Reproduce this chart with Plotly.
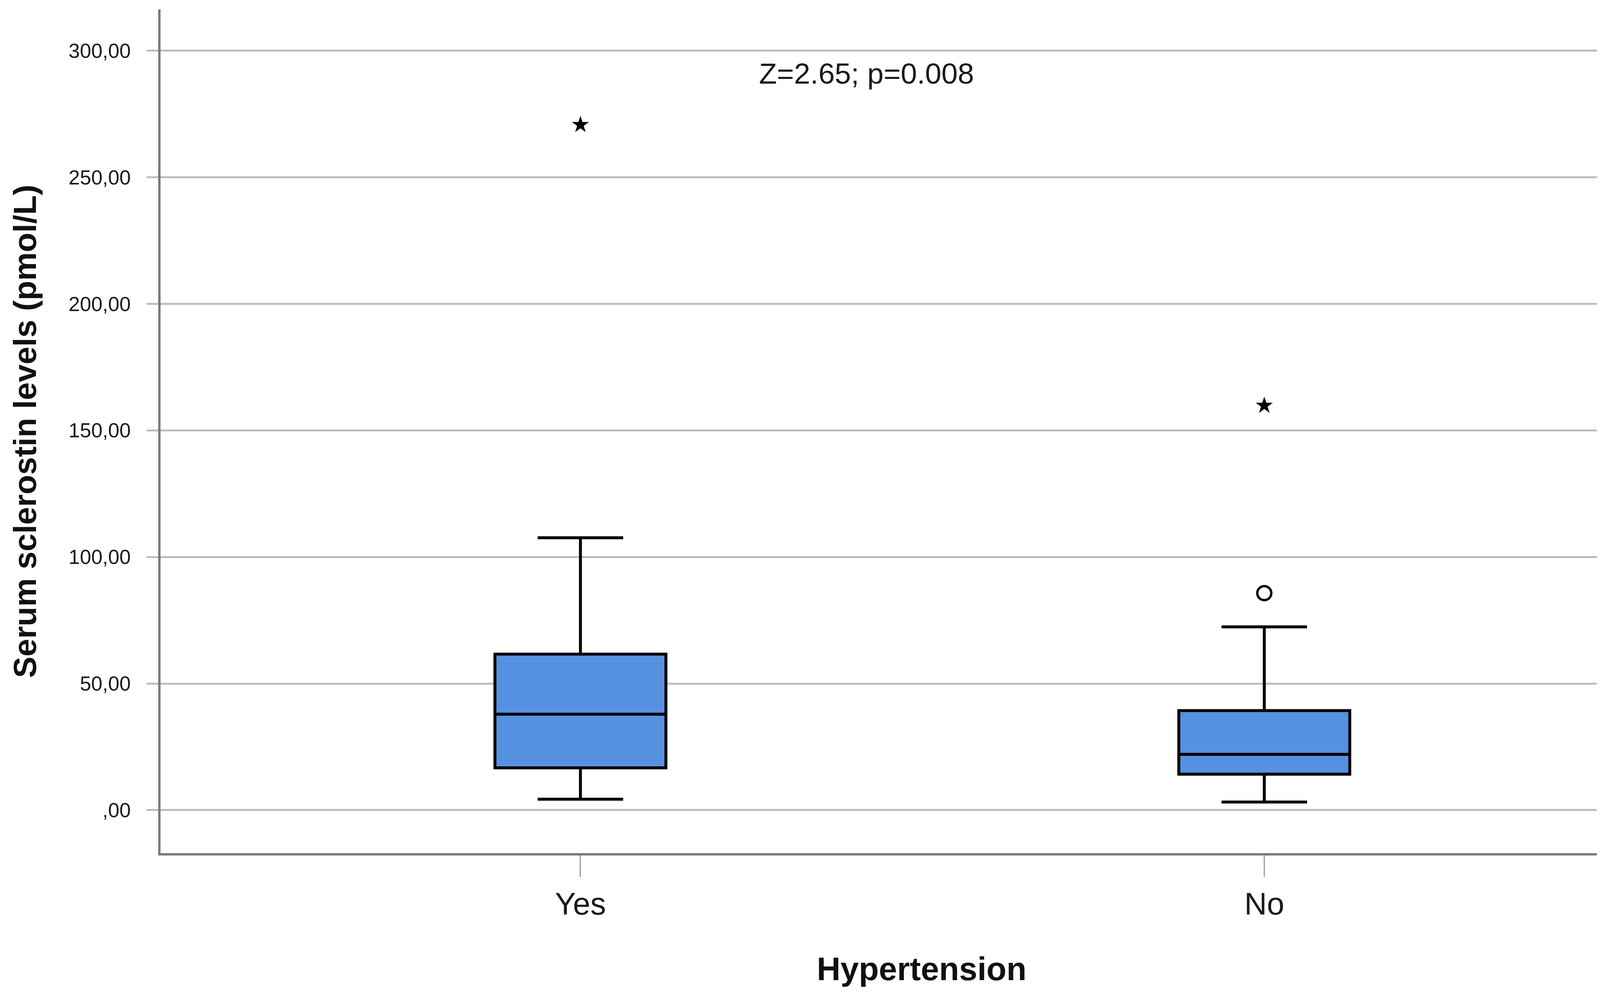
import plotly.graph_objects as go

# Box summary values (pmol/L)
groups = ["Yes", "No"]
q1 = [16.7, 14.2]
medians = [37.9, 22.0]
q3 = [61.6, 39.3]
whisker_low = [4.3, 3.2]
whisker_high = [107.6, 72.4]

# Outliers (circle) and extreme values (star)
outlier_x = ["No"]
outlier_y = [85.7]
extreme_x = ["Yes", "No"]
extreme_y = [270.7, 159.8]

y_ticks = [0, 50, 100, 150, 200, 250, 300]
y_tick_labels = [",00", "50,00", "100,00", "150,00", "200,00", "250,00", "300,00"]

fig = go.Figure()

fig.add_trace(go.Box(
    x=groups, q1=q1, median=medians, q3=q3,
    lowerfence=whisker_low, upperfence=whisker_high,
    width=0.25, whiskerwidth=0.5,
    fillcolor="#5591E0", line=dict(color="black", width=7.5),
    boxpoints=False, showlegend=False, hoverinfo="skip"))

fig.add_trace(go.Scatter(
    x=outlier_x, y=outlier_y, mode="markers",
    marker=dict(symbol="circle-open", size=36, color="black", line=dict(width=6)),
    showlegend=False))

fig.add_trace(go.Scatter(
    x=extreme_x, y=extreme_y, mode="markers",
    marker=dict(symbol="star", size=33, color="black"),
    showlegend=False))

fig.add_annotation(x=0.418, y=291, text="Z=2.65; p=0.008", showarrow=False,
                   xanchor="center", yanchor="middle",
                   font=dict(family="Liberation Sans", size=75, color="#1a1a1a"))

fig.update_layout(
    width=4317, height=2546,
    margin=dict(l=403, r=17, t=16, b=371),
    paper_bgcolor="white", plot_bgcolor="white",
    font=dict(family="Liberation Sans", color="#1a1a1a"),
    showlegend=False,
)

fig.update_xaxes(
    type="category", range=[-0.614, 1.612],
    showline=True, linecolor="#7a7a7a", linewidth=6,
    showgrid=False, ticks="outside", ticklen=55, tickwidth=3, tickcolor="#9a9a9a",
    tickfont=dict(size=80, color="#1a1a1a"),
    title=dict(text="<b>Hypertension</b>", font=dict(size=84, color="#111"), standoff=95),
)

fig.update_yaxes(
    range=[-17, 316.3], tickvals=y_ticks, ticktext=y_tick_labels,
    showline=True, linecolor="#7a7a7a", linewidth=6,
    showgrid=True, gridcolor="#bdbdbd", gridwidth=5, zeroline=False,
    ticks="outside", ticklen=30, tickwidth=5, tickcolor="#bdbdbd",
    tickfont=dict(size=52, color="#1a1a1a"), ticklabelstandoff=30,
    title=dict(text="<b>Serum sclerostin levels (pmol/L)</b>", font=dict(size=82, color="#111"), standoff=58),
)

fig.write_html("out.html")
